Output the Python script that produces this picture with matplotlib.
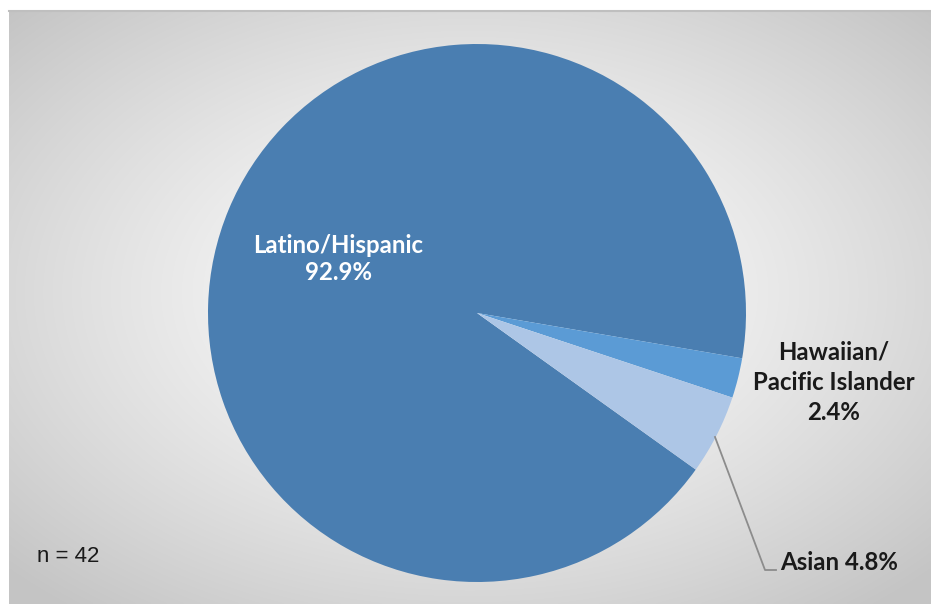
import numpy as np
import matplotlib
matplotlib.use("Agg")
import matplotlib.pyplot as plt

categories = ["Latino/Hispanic", "Hawaiian/\nPacific Islander", "Asian"]
percentages = [92.9, 2.4, 4.8]
colors = ["#4A7EB1", "#5B9BD5", "#ADC6E6"]
sample_note = "n = 42"

W, H = 931, 604
fig = plt.figure(figsize=(W / 100, H / 100), dpi=100)
fig.patch.set_facecolor("white")

# background panel with radial gradient
left_px, top_px = 9, 11
bg = fig.add_axes([left_px / W, 0, 1 - left_px / W, (H - top_px) / H])
bg.set_axis_off()
nx, ny = 400, 260
xs = np.linspace(-1, 1, nx)
ys = np.linspace(-1, 1, ny)
X, Y = np.meshgrid(xs, ys)
R = np.sqrt((X / 1.0) ** 2 + ((Y + 0.05) / 1.0) ** 2)
R = np.clip(R / 1.38, 0, 1)
val = 1.0 - (1.0 - 0.77) * R ** 1.3
img = np.dstack([val, val, val])
bg.imshow(img, extent=[0, 1, 0, 1], aspect="auto", origin="upper", interpolation="bilinear")
bg.plot([0, 1], [1, 1], color="#BFBFBF", lw=1.5, transform=bg.transAxes, clip_on=False)
bg.set_xlim(0, 1)
bg.set_ylim(0, 1)

# pie
cx, cy, rad = 477, 313, 269
ax = fig.add_axes([(cx - rad) / W, (H - cy - rad) / H, 2 * rad / W, 2 * rad / H])
ax.set_axis_off()
total = sum(percentages)
latino_span = percentages[0] / total * 360
start = -9.7 + latino_span
wedges, _ = ax.pie(percentages, colors=colors, startangle=start, counterclock=False,
                   radius=1.0, wedgeprops=dict(linewidth=0))
ax.set_xlim(-1, 1)
ax.set_ylim(-1, 1)
ax.set_aspect("equal")

bold = dict(family=["Lato", "DejaVu Sans"], fontweight="bold", fontsize=17.3)

def px(x, y):
    return (x / W, 1 - y / H)

fig.text(*px(338, 259), f"{categories[0]}\n{percentages[0]}%", color="white",
         ha="center", va="center", linespacing=1.2, **bold)
fig.text(*px(834, 382), f"{categories[1]}\n{percentages[1]}%", color="#1A1A1A",
         ha="center", va="center", linespacing=1.38, **bold)
fig.text(*px(780, 563), f"{categories[2]} {percentages[2]}%", color="#1A1A1A",
         ha="left", va="center", **bold)

# leader line for Asian
fig.add_artist(plt.Line2D([715 / W, 765 / W, 776 / W],
                          [1 - 437 / H, 1 - 570 / H, 1 - 570 / H],
                          color="#8C8C8C", lw=1.3))

fig.text(*px(37, 557), sample_note, color="#1A1A1A", ha="left", va="center",
         family=["Liberation Sans", "DejaVu Sans"], fontsize=16)

fig.savefig("out.png", dpi=100)
